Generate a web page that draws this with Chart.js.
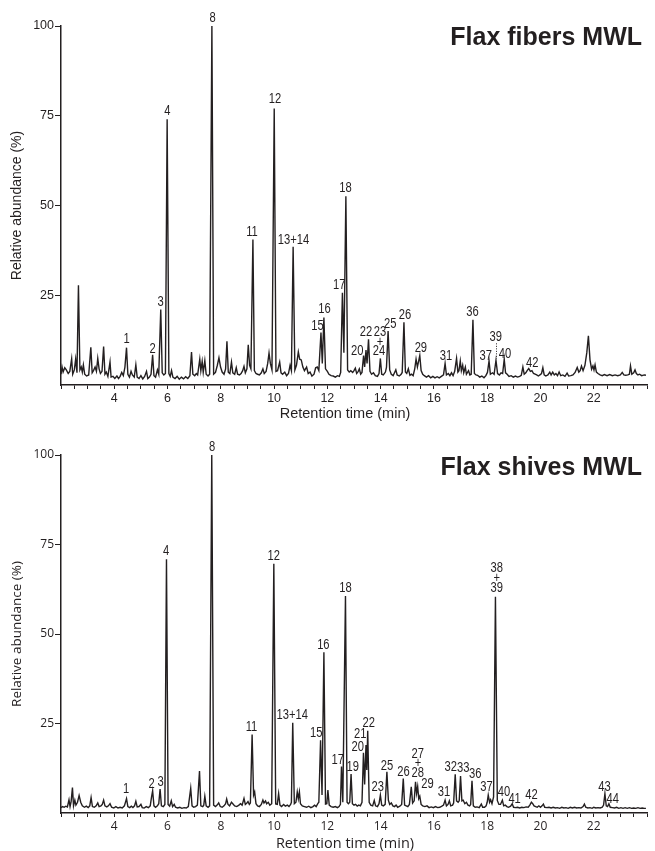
<!DOCTYPE html>
<html>
<head>
<meta charset="utf-8">
<script src="https://cdn.jsdelivr.net/npm/chart.js@4.4.0/dist/chart.umd.min.js"></script>
<style>
  html, body { margin: 0; padding: 0; background: #fff; }
  #wrap { position: relative; width: 655px; height: 851px; }
  canvas { position: absolute; left: 0; }
  #fibersChart { top: 0; }
  #shivesChart { top: 425px; }
</style>
</head>
<body>
<div id="wrap">
  <canvas id="fibersChart" width="655" height="425"></canvas>
  <canvas id="shivesChart" width="655" height="426"></canvas>
</div>
<script>
// [retention time (min), relative abundance (%)]
const fibersTrace = [
  [2.00, 3.0], [2.04, 5.0], [2.08, 3.6], [2.14, 4.8], [2.20, 4.2], [2.27, 3.2], [2.33, 3.8], [2.40, 7.3],
  [2.44, 3.0], [2.50, 4.2], [2.55, 7.2], [2.60, 3.4], [2.655, 27.8], [2.71, 4.2], [2.76, 5.0], [2.80, 3.6],
  [2.84, 5.6], [2.89, 3.0], [2.96, 2.5], [3.04, 2.8], [3.12, 10.5], [3.17, 3.4], [3.22, 4.0], [3.28, 5.0],
  [3.33, 3.8], [3.38, 7.4], [3.43, 4.5], [3.48, 3.2], [3.54, 3.8], [3.60, 10.7], [3.65, 3.0], [3.70, 3.6],
  [3.76, 2.4], [3.84, 6.4], [3.88, 2.2], [3.95, 2.4], [4.02, 1.8], [4.10, 2.5], [4.16, 1.8], [4.22, 2.4],
  [4.28, 3.5], [4.34, 2.6], [4.40, 5.0], [4.46, 10.4], [4.51, 3.0], [4.57, 2.2], [4.63, 3.8], [4.68, 2.8],
  [4.75, 2.2], [4.81, 5.6], [4.86, 2.2], [4.93, 1.8], [5.00, 2.6], [5.07, 1.7], [5.14, 2.4], [5.21, 3.8],
  [5.26, 1.8], [5.32, 2.2], [5.38, 3.0], [5.44, 8.4], [5.49, 2.6], [5.55, 2.2], [5.62, 4.2], [5.67, 3.0],
  [5.745, 21.0], [5.80, 3.4], [5.86, 2.8], [5.92, 3.2], [5.985, 74.0], [6.05, 3.2], [6.10, 2.4], [6.15, 4.0],
  [6.20, 2.2], [6.28, 1.8], [6.36, 2.4], [6.44, 1.6], [6.52, 2.2], [6.60, 1.7], [6.68, 2.3], [6.76, 1.8],
  [6.84, 2.6], [6.90, 9.2], [6.95, 3.0], [7.02, 2.6], [7.08, 3.2], [7.13, 2.8], [7.21, 7.2], [7.25, 4.0],
  [7.30, 6.6], [7.34, 3.5], [7.40, 6.8], [7.45, 3.0], [7.52, 2.5], [7.58, 3.0], [7.665, 100], [7.73, 3.0],
  [7.80, 3.5], [7.87, 5.5], [7.93, 7.6], [7.99, 5.0], [8.05, 3.6], [8.12, 3.0], [8.18, 4.5], [8.23, 12.2],
  [8.28, 3.6], [8.34, 3.2], [8.40, 6.4], [8.45, 3.4], [8.52, 3.0], [8.58, 4.8], [8.63, 3.0], [8.70, 2.8],
  [8.76, 3.2], [8.82, 4.0], [8.87, 5.2], [8.92, 3.4], [8.98, 4.5], [9.03, 11.2], [9.08, 5.5], [9.13, 4.5],
  [9.205, 40.5], [9.26, 4.0], [9.32, 3.2], [9.38, 3.0], [9.45, 2.8], [9.52, 3.4], [9.58, 4.5], [9.63, 3.2],
  [9.70, 3.8], [9.76, 6.0], [9.81, 8.9], [9.86, 6.0], [9.92, 4.2], [10.005, 77.0], [10.07, 3.8], [10.13, 4.0],
  [10.21, 6.4], [10.26, 3.4], [10.32, 3.0], [10.40, 3.6], [10.47, 2.6], [10.54, 3.2], [10.60, 5.5], [10.65, 4.0],
  [10.715, 38.5], [10.78, 4.2], [10.84, 5.5], [10.91, 9.2], [10.96, 7.2], [11.02, 7.0], [11.08, 5.0], [11.14, 4.0],
  [11.22, 5.0], [11.28, 3.2], [11.35, 3.6], [11.42, 2.5], [11.50, 3.0], [11.56, 4.8], [11.62, 5.0], [11.68, 4.0],
  [11.76, 14.6], [11.81, 6.0], [11.87, 18.8], [11.93, 4.5], [12.00, 3.8], [12.06, 3.0], [12.14, 2.6], [12.22, 2.5],
  [12.30, 2.2], [12.38, 2.6], [12.45, 2.4], [12.50, 3.5], [12.565, 25.7], [12.62, 9.0], [12.695, 52.6], [12.76, 4.2],
  [12.82, 3.6], [12.88, 4.0], [12.95, 3.5], [13.00, 4.0], [13.05, 4.7], [13.10, 3.2], [13.16, 3.8], [13.20, 4.5],
  [13.25, 3.0], [13.30, 3.5], [13.36, 8.2], [13.40, 5.0], [13.45, 9.7], [13.49, 6.0], [13.545, 12.7], [13.60, 3.8],
  [13.66, 3.0], [13.73, 3.4], [13.80, 2.6], [13.88, 2.4], [13.94, 3.2], [13.99, 7.4], [14.04, 3.0], [14.10, 2.8],
  [14.18, 3.6], [14.22, 5.0], [14.28, 15.0], [14.34, 4.2], [14.40, 3.0], [14.47, 2.6], [14.52, 3.4], [14.57, 4.2],
  [14.62, 2.8], [14.70, 2.5], [14.77, 3.0], [14.81, 3.5], [14.875, 17.5], [14.93, 3.6], [14.98, 3.2], [15.04, 4.5],
  [15.10, 2.7], [15.16, 3.0], [15.22, 2.6], [15.28, 4.5], [15.33, 7.2], [15.38, 5.0], [15.47, 8.2], [15.52, 4.0],
  [15.58, 3.0], [15.64, 2.6], [15.72, 2.2], [15.80, 2.6], [15.88, 2.0], [15.96, 2.4], [16.04, 2.0], [16.12, 2.3],
  [16.20, 2.0], [16.28, 2.4], [16.36, 2.8], [16.42, 6.0], [16.47, 2.8], [16.54, 3.2], [16.60, 2.6], [16.66, 3.4],
  [16.72, 2.6], [16.78, 3.8], [16.85, 7.4], [16.90, 3.6], [16.94, 4.0], [16.99, 6.7], [17.03, 4.0], [17.08, 5.5],
  [17.12, 3.4], [17.18, 5.0], [17.22, 3.0], [17.30, 4.0], [17.35, 2.8], [17.40, 3.0], [17.465, 18.2], [17.52, 3.2],
  [17.58, 2.8], [17.64, 2.7], [17.72, 2.2], [17.80, 2.5], [17.88, 2.0], [17.95, 2.6], [18.01, 3.5], [18.07, 6.7],
  [18.12, 3.0], [18.20, 3.4], [18.26, 3.0], [18.33, 6.9], [18.39, 3.2], [18.46, 2.8], [18.52, 3.4], [18.58, 3.2],
  [18.64, 7.2], [18.69, 3.4], [18.75, 3.0], [18.82, 2.4], [18.90, 2.6], [18.98, 2.2], [19.06, 2.5], [19.14, 2.2],
  [19.22, 2.4], [19.28, 2.7], [19.34, 5.0], [19.39, 3.0], [19.45, 3.4], [19.50, 4.0], [19.56, 4.6], [19.62, 3.8],
  [19.68, 4.0], [19.74, 3.2], [19.80, 3.0], [19.86, 2.8], [19.92, 2.5], [19.98, 2.8], [20.04, 3.2], [20.09, 4.8],
  [20.14, 2.8], [20.20, 2.5], [20.28, 2.8], [20.35, 3.6], [20.40, 2.8], [20.46, 3.6], [20.52, 2.8], [20.58, 3.2],
  [20.64, 2.6], [20.70, 3.6], [20.76, 2.6], [20.84, 2.8], [20.92, 2.4], [21.00, 3.3], [21.06, 2.5], [21.14, 2.6],
  [21.22, 2.8], [21.30, 3.5], [21.38, 4.9], [21.44, 3.6], [21.49, 4.0], [21.54, 5.3], [21.60, 4.0], [21.67, 5.5],
  [21.74, 9.0], [21.80, 13.7], [21.86, 7.0], [21.92, 4.4], [21.97, 5.3], [22.01, 4.2], [22.05, 5.6], [22.10, 3.6],
  [22.16, 3.2], [22.24, 2.8], [22.32, 2.6], [22.40, 2.9], [22.50, 2.6], [22.60, 2.9], [22.70, 2.6], [22.80, 2.8],
  [22.90, 2.6], [23.00, 2.8], [23.07, 3.5], [23.13, 2.8], [23.20, 2.7], [23.28, 2.8], [23.34, 3.0], [23.38, 5.3],
  [23.43, 3.0], [23.50, 3.4], [23.55, 4.2], [23.60, 3.2], [23.66, 2.8], [23.72, 3.0], [23.80, 2.6], [23.90, 2.8],
  [23.96, 2.7]
];

const shivesTrace = [
  [2.00, 1.5], [2.06, 1.8], [2.12, 1.6], [2.18, 1.9], [2.24, 1.7], [2.30, 3.7], [2.34, 1.8], [2.38, 3.2],
  [2.43, 7.1], [2.47, 2.0], [2.52, 3.6], [2.56, 2.2], [2.62, 3.0], [2.68, 4.9], [2.74, 3.0], [2.80, 2.0],
  [2.88, 1.6], [2.95, 1.9], [3.02, 1.5], [3.08, 2.0], [3.13, 4.3], [3.18, 1.8], [3.25, 1.6], [3.32, 2.0],
  [3.38, 2.8], [3.43, 1.8], [3.50, 2.0], [3.55, 2.4], [3.60, 3.6], [3.65, 2.0], [3.72, 1.7], [3.78, 2.0],
  [3.84, 2.6], [3.90, 1.6], [3.98, 1.4], [4.06, 1.8], [4.14, 1.4], [4.22, 1.6], [4.30, 1.4], [4.38, 2.0],
  [4.46, 4.0], [4.51, 1.8], [4.58, 1.5], [4.64, 1.9], [4.70, 1.5], [4.76, 2.0], [4.81, 3.3], [4.86, 1.7],
  [4.93, 1.8], [5.00, 2.4], [5.05, 1.5], [5.12, 1.4], [5.20, 1.8], [5.28, 1.5], [5.35, 2.0], [5.40, 4.5],
  [5.44, 6.2], [5.49, 2.0], [5.55, 1.6], [5.62, 2.0], [5.67, 2.6], [5.72, 6.7], [5.77, 2.0], [5.84, 1.8],
  [5.90, 2.4], [5.96, 70.9], [6.02, 2.4], [6.08, 1.9], [6.14, 3.4], [6.19, 1.8], [6.25, 2.4], [6.30, 1.6],
  [6.38, 1.4], [6.46, 1.6], [6.54, 1.3], [6.62, 1.5], [6.70, 1.4], [6.78, 1.8], [6.87, 6.9], [6.92, 2.0],
  [6.98, 1.6], [7.05, 1.8], [7.12, 2.2], [7.20, 11.7], [7.25, 2.0], [7.32, 1.8], [7.36, 2.2], [7.40, 4.7],
  [7.45, 2.0], [7.52, 1.6], [7.58, 2.0], [7.66, 100], [7.73, 2.2], [7.80, 1.8], [7.86, 2.2], [7.92, 2.8],
  [7.98, 1.8], [8.05, 1.6], [8.12, 2.0], [8.18, 2.6], [8.22, 3.9], [8.27, 2.4], [8.33, 2.0], [8.40, 3.0],
  [8.45, 2.6], [8.52, 2.0], [8.60, 1.8], [8.68, 2.2], [8.74, 2.6], [8.80, 2.2], [8.87, 4.1], [8.92, 2.4],
  [8.98, 2.8], [9.02, 3.2], [9.07, 2.4], [9.11, 2.8], [9.175, 21.9], [9.23, 5.0], [9.27, 5.9], [9.32, 2.6],
  [9.38, 2.0], [9.45, 1.8], [9.52, 2.4], [9.58, 3.6], [9.62, 2.8], [9.68, 3.4], [9.72, 2.6], [9.78, 3.0],
  [9.84, 2.2], [9.91, 2.6], [9.99, 69.6], [10.06, 2.5], [10.12, 2.4], [10.17, 5.4], [10.22, 2.2], [10.28, 1.8],
  [10.36, 2.4], [10.42, 1.9], [10.50, 2.2], [10.56, 1.8], [10.62, 2.4], [10.65, 3.0], [10.70, 25.2], [10.76, 2.6],
  [10.82, 3.0], [10.87, 5.9], [10.91, 4.0], [10.95, 5.9], [10.99, 2.6], [11.06, 2.0], [11.14, 1.8], [11.22, 1.6],
  [11.30, 1.9], [11.38, 1.5], [11.46, 1.8], [11.52, 2.2], [11.58, 1.8], [11.64, 2.6], [11.68, 3.0], [11.745, 20.3],
  [11.80, 5.0], [11.87, 44.9], [11.93, 2.5], [11.98, 2.6], [12.02, 6.4], [12.07, 2.2], [12.14, 1.8], [12.22, 1.6],
  [12.30, 1.8], [12.38, 1.5], [12.44, 1.8], [12.49, 2.4], [12.53, 13.0], [12.58, 3.0], [12.68, 60.6], [12.74, 3.0],
  [12.79, 2.6], [12.84, 3.0], [12.89, 10.9], [12.94, 2.6], [13.00, 2.2], [13.06, 2.4], [13.12, 1.9], [13.18, 2.2],
  [13.24, 2.0], [13.30, 3.0], [13.355, 16.8], [13.40, 8.0], [13.45, 19.0], [13.48, 12.0], [13.515, 23.0], [13.57, 3.0],
  [13.63, 2.2], [13.70, 2.0], [13.76, 3.5], [13.81, 2.0], [13.88, 1.8], [13.94, 2.6], [13.99, 5.0], [14.04, 2.2],
  [14.10, 2.0], [14.17, 2.4], [14.235, 11.5], [14.29, 3.6], [14.34, 2.4], [14.40, 2.8], [14.46, 2.0], [14.52, 1.8],
  [14.58, 2.2], [14.64, 1.6], [14.72, 1.9], [14.79, 2.4], [14.85, 9.6], [14.90, 2.2], [14.96, 2.0], [15.02, 1.8],
  [15.08, 2.4], [15.15, 7.3], [15.20, 2.8], [15.26, 3.4], [15.31, 8.7], [15.35, 5.5], [15.39, 7.4], [15.43, 4.0],
  [15.47, 4.7], [15.52, 2.4], [15.58, 2.0], [15.66, 1.8], [15.74, 2.0], [15.82, 1.5], [15.90, 1.7], [15.98, 1.5],
  [16.06, 1.8], [16.14, 1.5], [16.22, 1.6], [16.30, 1.9], [16.36, 2.2], [16.42, 3.6], [16.47, 2.0], [16.53, 2.4],
  [16.58, 3.4], [16.63, 2.0], [16.70, 2.2], [16.74, 2.8], [16.80, 10.8], [16.85, 3.4], [16.91, 3.0], [16.95, 3.4],
  [17.00, 10.3], [17.05, 3.4], [17.10, 3.6], [17.16, 2.6], [17.22, 3.0], [17.28, 2.2], [17.34, 2.0], [17.38, 2.4],
  [17.43, 9.0], [17.48, 2.0], [17.55, 1.6], [17.62, 1.7], [17.70, 1.5], [17.78, 2.5], [17.83, 1.6], [17.90, 1.6],
  [17.96, 2.0], [18.00, 3.0], [18.04, 5.0], [18.09, 3.0], [18.13, 3.7], [18.18, 2.6], [18.24, 4.5], [18.31, 60.4],
  [18.38, 3.5], [18.44, 2.4], [18.50, 2.4], [18.57, 3.6], [18.62, 2.0], [18.68, 2.2], [18.74, 1.8], [18.80, 1.6],
  [18.88, 1.9], [18.94, 2.6], [18.99, 1.6], [19.06, 1.5], [19.14, 1.6], [19.22, 1.4], [19.30, 1.6], [19.38, 1.5],
  [19.46, 1.7], [19.54, 1.6], [19.60, 2.2], [19.66, 3.0], [19.71, 2.6], [19.76, 2.0], [19.82, 1.8], [19.88, 1.6],
  [19.94, 2.0], [20.00, 1.6], [20.06, 2.0], [20.11, 2.5], [20.16, 1.6], [20.24, 1.5], [20.32, 1.6], [20.40, 1.4],
  [20.48, 1.6], [20.56, 1.4], [20.64, 1.5], [20.72, 1.3], [20.80, 1.6], [20.88, 1.4], [20.96, 1.5], [21.04, 1.3],
  [21.12, 1.6], [21.20, 1.4], [21.28, 1.6], [21.36, 1.4], [21.44, 1.5], [21.52, 1.4], [21.60, 1.8], [21.65, 2.5],
  [21.70, 1.6], [21.78, 1.4], [21.86, 1.5], [21.94, 1.3], [22.00, 1.6], [22.08, 1.4], [22.16, 1.5], [22.24, 1.4],
  [22.32, 1.6], [22.37, 2.2], [22.42, 5.4], [22.47, 2.0], [22.52, 1.8], [22.57, 2.6], [22.62, 1.6], [22.70, 1.5],
  [22.78, 1.4], [22.86, 1.6], [22.94, 1.3], [23.02, 1.5], [23.10, 1.3], [23.18, 1.5], [23.26, 1.3], [23.34, 1.5],
  [23.42, 1.3], [23.50, 1.4], [23.58, 1.3], [23.66, 1.5], [23.74, 1.3], [23.82, 1.4], [23.90, 1.3], [23.96, 1.3]
];

// peak numbers: [text, retention time, abundance level of the label]
const fibersPeaks = [
  ['1', 4.46, 12.9], ['2', 5.44, 10.1], ['3', 5.74, 23.0], ['4', 5.99, 76.4], ['8', 7.69, 102.1],
  ['11', 9.17, 42.6], ['12', 10.03, 79.6], ['13+14', 10.73, 40.4], ['15', 11.63, 16.3], ['16', 11.89, 21.1],
  ['17', 12.45, 27.9], ['18', 12.68, 54.7], ['20', 13.12, 9.5], ['22', 13.45, 14.6],
  ['23', 13.98, 14.6], ['+', 13.98, 12.0], ['24', 13.94, 9.5], ['25', 14.36, 16.9], ['26', 14.91, 19.5],
  ['29', 15.51, 10.2], ['31', 16.45, 8.0], ['36', 17.45, 20.2], ['37', 17.95, 8.0], ['39', 18.32, 13.2],
  ['40', 18.67, 8.6], ['42', 19.69, 6.2]
];

const shivesPeaks = [
  ['1', 4.44, 6.6], ['2', 5.40, 8.2], ['3', 5.74, 8.7], ['4', 5.95, 73.1], ['8', 7.67, 102.2],
  ['11', 9.15, 24.1], ['12', 9.99, 71.7], ['13+14', 10.68, 27.3], ['15', 11.58, 22.2], ['16', 11.85, 46.8],
  ['17', 12.39, 14.8], ['18', 12.68, 62.9], ['19', 12.95, 12.7], ['20', 13.14, 18.3], ['21', 13.23, 22.0],
  ['22', 13.55, 25.2], ['23', 13.89, 7.3], ['25', 14.24, 13.1], ['26', 14.86, 11.3],
  ['27', 15.39, 16.4], ['+', 15.40, 13.8], ['28', 15.39, 11.2], ['29', 15.76, 8.1], ['31', 16.38, 5.7],
  ['32', 16.63, 12.7], ['33', 17.10, 12.4], ['36', 17.55, 10.8], ['37', 17.97, 7.1],
  ['38', 18.36, 68.4], ['+', 18.36, 65.6], ['39', 18.36, 62.8],
  ['40', 18.63, 5.9], ['41', 19.03, 3.9], ['42', 19.66, 5.0], ['43', 22.40, 7.3], ['44', 22.71, 3.9]
];

// dotted leader from label 39 down to its peak: [time, from level, to level]
const fibersLeader = [18.33, 11.6, 7.3];

const xTickLabels = [4, 6, 8, 10, 12, 14, 16, 18, 20, 22];
const yTickLabels = [25, 50, 75, 100];

const INK = '#231f20';

function labelPlugin(peaks, title, cfg) {
  return {
    id: 'peakLabels',
    afterDatasetsDraw(chart) {
      const { ctx, scales: { x, y } } = chart;
      ctx.save();
      ctx.fillStyle = INK;
      ctx.textAlign = 'center';
      ctx.textBaseline = 'middle';
      // narrow face: regular sans squeezed horizontally
      ctx.font = "14px 'Liberation Sans', Arial, sans-serif";
      peaks.forEach(p => {
        ctx.save();
        ctx.translate(x.getPixelForValue(p[1]), y.getPixelForValue(p[2]));
        ctx.scale(0.8, 1);
        ctx.fillText(p[0], 0, 0);
        ctx.restore();
      });
      if (cfg.leader) {
        const lead = cfg.leader;
        const lx = Math.round(x.getPixelForValue(lead[0])) + 0.5;
        ctx.strokeStyle = INK;
        ctx.lineWidth = 1;
        ctx.setLineDash([1, 1.5]);
        ctx.beginPath();
        ctx.moveTo(lx, y.getPixelForValue(lead[1]));
        ctx.lineTo(lx, y.getPixelForValue(lead[2]));
        ctx.stroke();
        ctx.setLineDash([]);
      }
      ctx.font = '14.5px ' + cfg.font;
      ctx.fillText('Retention time (min)', 345, cfg.xTitleY);
      ctx.font = "bold 25px 'Liberation Sans', Arial, sans-serif";
      ctx.textAlign = 'right';
      ctx.fillText(title, 642, cfg.titleY);
      ctx.restore();
    }
  };
}

function buildChart(canvasId, trace, peaks, title, cfg) {
  return new Chart(document.getElementById(canvasId), {
    type: 'line',
    data: {
      datasets: [{
        data: trace.map(p => ({ x: p[0], y: p[1] })),
        borderColor: INK,
        borderWidth: 1.4,
        pointRadius: 0,
        tension: 0,
        clip: false
      }]
    },
    options: {
      responsive: false,
      animation: false,
      events: [],
      layout: { padding: { top: cfg.top, right: 8, bottom: 0, left: 0 } },
      plugins: { legend: { display: false }, tooltip: { enabled: false } },
      scales: {
        x: {
          type: 'linear',
          min: 2,
          max: 24,
          border: { color: INK, width: 1.5 },
          grid: { drawOnChartArea: false, tickLength: 4, tickColor: INK, tickWidth: 1 },
          ticks: {
            stepSize: 0.5,
            autoSkip: false,
            maxRotation: 0,
            padding: 2,
            color: INK,
            font: { family: cfg.font, size: cfg.tickSize },
            callback: v => {
              const r = Math.round(v);
              return Math.abs(v - r) < 1e-6 && xTickLabels.includes(r) ? String(r) : '';
            }
          },
          afterFit: s => { s.height = cfg.xHeight; }
        },
        y: {
          min: 0,
          max: 100,
          border: { color: INK, width: 1.5 },
          grid: {
            drawOnChartArea: false,
            tickLength: 6,
            tickWidth: 1,
            tickColor: c => (c.tick && c.tick.value === 0 ? 'rgba(0,0,0,0)' : INK)
          },
          ticks: {
            stepSize: 25,
            padding: 1,
            color: INK,
            font: { family: cfg.font, size: cfg.tickSize },
            callback: v => (yTickLabels.includes(v) ? String(v) : '')
          },
          title: {
            display: true,
            text: 'Relative abundance (%)',
            color: INK,
            font: { family: cfg.font, size: cfg.yTitleSize, lineHeight: 1.2 },
            padding: { top: cfg.yTitlePad, bottom: 0 }
          },
          afterFit: s => { s.width = 61; }
        }
      }
    },
    plugins: [labelPlugin(peaks, title, cfg)]
  });
}

buildChart('fibersChart', fibersTrace, fibersPeaks, 'Flax fibers MWL', {
  top: 26, xHeight: 40, xTitleY: 414, font: "'Liberation Sans', Arial, sans-serif",
  tickSize: 12.5, yTitleSize: 14, yTitlePad: 8.6, titleY: 38, leader: fibersLeader
});

buildChart('shivesChart', shivesTrace, shivesPeaks, 'Flax shives MWL', {
  top: 30, xHeight: 38, xTitleY: 419, font: "'Open Sans', 'Liberation Sans', sans-serif",
  tickSize: 12, yTitleSize: 13.5, yTitlePad: 9, titleY: 43, leader: null
});
</script>
</body>
</html>
